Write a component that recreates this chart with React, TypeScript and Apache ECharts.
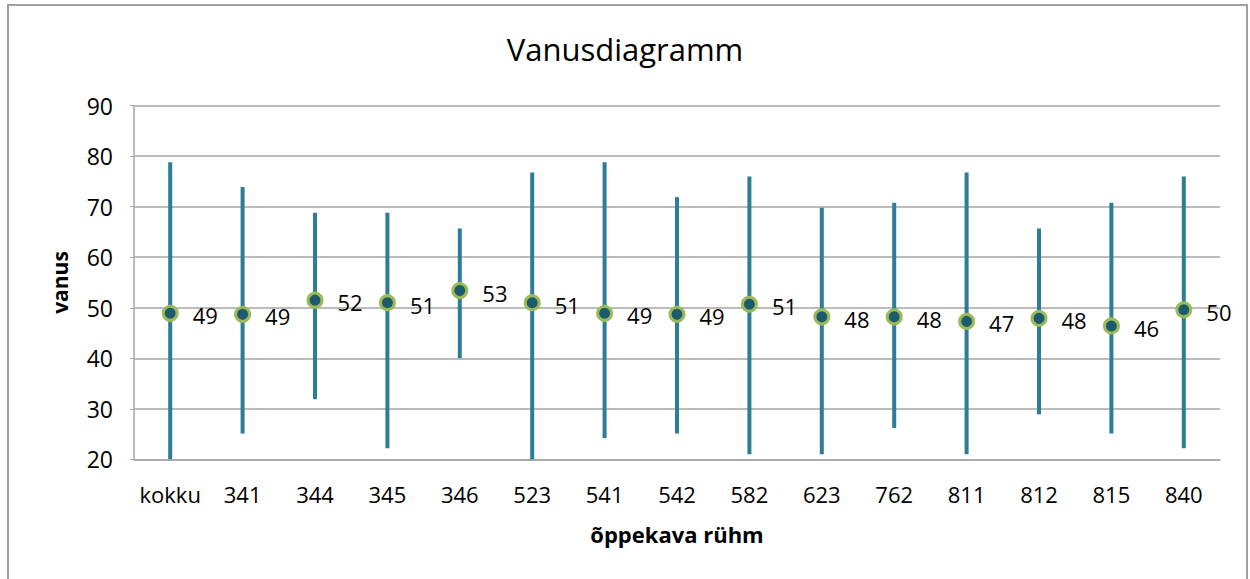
import React, { useEffect, useRef } from "react";
import * as echarts from "echarts";

const categories = ["kokku", "341", "344", "345", "346", "523", "541", "542", "582", "623", "762", "811", "812", "815", "840"];
const minAges = [20, 25.1, 31.9, 22.2, 40, 20, 24.2, 25.1, 21, 21, 26.2, 21, 28.9, 25.1, 22.2];
const maxAges = [78.8, 73.9, 68.8, 68.8, 65.7, 76.8, 78.8, 71.9, 76, 69.8, 70.8, 76.8, 65.7, 70.8, 76];
const meanAges = [48.9, 48.7, 51.5, 51.0, 53.4, 51.0, 48.9, 48.7, 50.7, 48.2, 48.2, 47.3, 47.9, 46.4, 49.6];

const FONT = "'Open Sans', sans-serif";

export default function App() {
  const ref = useRef<HTMLDivElement>(null);
  useEffect(() => {
    if (!ref.current) return;
    const chart = echarts.init(ref.current, null, { renderer: "svg" });
    chart.setOption({
      animation: false,
      backgroundColor: "#ffffff",
      textStyle: { fontFamily: FONT },
      title: {
        text: "Vanusdiagramm",
        left: "center",
        top: 28,
        textStyle: { fontFamily: FONT, fontSize: 31, fontWeight: "normal", color: "#000" },
      },
      graphic: [
        {
          type: "rect",
          shape: { x: 8, y: 5, width: 1239, height: 590 },
          style: { fill: "none", stroke: "#a0a0a0", lineWidth: 2 },
          silent: true,
        },
      ],
      grid: { left: 134, right: 30, top: 105.7, bottom: 119.7 },
      xAxis: {
        type: "category",
        data: categories,
        boundaryGap: true,
        name: "õppekava rühm",
        nameLocation: "middle",
        nameGap: 64,
        nameTextStyle: { fontFamily: FONT, fontSize: 22, fontWeight: "bold", color: "#000" },
        axisLine: { show: true, lineStyle: { color: "#a6a6a6", width: 1.5 } },
        axisTick: { show: false },
        axisLabel: { fontFamily: FONT, fontSize: 22, color: "#000", margin: 24, interval: 0 },
        splitLine: { show: false },
      },
      yAxis: {
        type: "value",
        min: 20,
        max: 90,
        interval: 10,
        name: "vanus",
        nameLocation: "middle",
        nameGap: 64,
        nameTextStyle: { fontFamily: FONT, fontSize: 21, fontWeight: "bold", color: "#000" },
        axisLine: { show: true, lineStyle: { color: "#a6a6a6", width: 1.5 } },
        axisTick: { show: true, length: 4, lineStyle: { color: "#a6a6a6" } },
        axisLabel: { fontFamily: FONT, fontSize: 23, color: "#000", margin: 21 },
        splitLine: { show: true, lineStyle: { color: "#a6a6a6", width: 1.5 } },
      },
      series: [
        {
          type: "custom",
          data: categories.map((c, i) => [i, minAges[i], maxAges[i]]),
          renderItem: (params: any, api: any) => {
            const x = api.value(0);
            const lo = api.coord([x, api.value(1)]);
            const hi = api.coord([x, api.value(2)]);
            return {
              type: "line",
              shape: { x1: lo[0], y1: lo[1], x2: hi[0], y2: hi[1] },
              style: { stroke: "#2C7D95", lineWidth: 4 },
            };
          },
          z: 2,
        },
        {
          type: "scatter",
          data: meanAges,
          symbol: "circle",
          symbolSize: 14,
          itemStyle: { color: "#1E5A6E", borderColor: "#9BBB59", borderWidth: 3, opacity: 1 },
          label: {
            show: true,
            position: "right",
            distance: 14,
            offset: [0, 2],
            fontFamily: FONT,
            fontSize: 22,
            color: "#000",
            formatter: (p: any) => String(Math.round(p.value)),
          },
          z: 3,
        },
      ],
    });
    return () => chart.dispose();
  }, []);
  return (
    <div
      ref={ref}
      style={{ position: "fixed", left: 0, top: 0, width: 1250, height: 579 }}
    />
  );
}
